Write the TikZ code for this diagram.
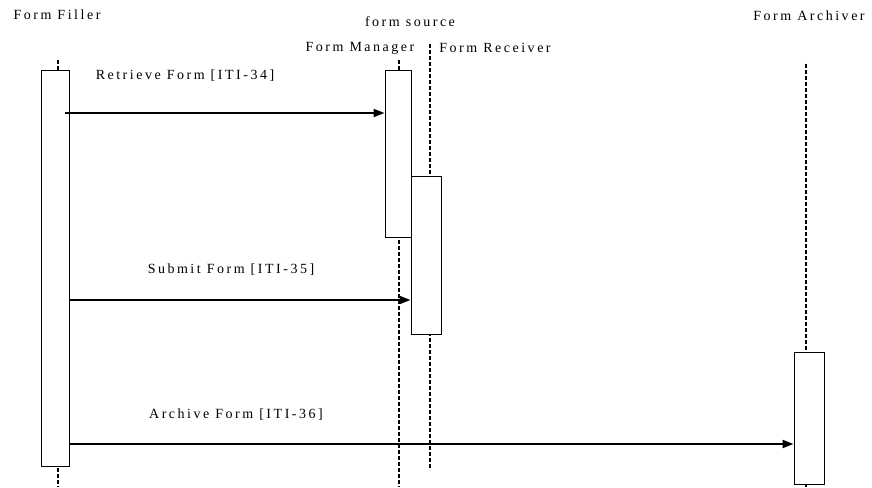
\documentclass[tikz,border=0pt]{standalone}
\usepackage{fontspec}
\setmainfont{Liberation Serif}[LetterSpace=18]
\usetikzlibrary{arrows.meta}
\begin{document}
\begin{tikzpicture}[x=1pt,y=-1pt,>={Triangle[length=11pt,width=8pt]},
  every node/.style={font=\fontsize{14}{16}\selectfont,inner sep=0pt},
  act/.style={draw,line width=.9pt,fill=white,inner sep=0pt},
  life/.style={line width=2pt,dash pattern=on 4pt off 2pt},
  msg/.style={->,line width=2pt}]
\useasboundingbox (0,0) rectangle (872,487);
% actor names
\node (filler) at (57,15) {Form Filler};
\node (source) at (410,22) {form source};
\node (mgr) at (360,48) {Form Manager};
\node (rcv) at (495,48) {Form Receiver};
\node (arc) at (809,16) {Form Archiver};
% lifelines
\draw[life] (58,60) -- (58,487);
\draw[life] (399,60) -- (399,487);
\draw[life] (430,44) -- (430,470);
\draw[life] (806,64) -- (806,487);
% activations
\node[act,minimum width=28,minimum height=396] (fillerAct) at (55,268) {};
\node[act,minimum width=26,minimum height=167] (mgrAct) at (398,153.5) {};
\node[act,minimum width=30,minimum height=158] (rcvAct) at (426,255) {};
\node[act,minimum width=30,minimum height=132] (arcAct) at (809,418) {};
% messages
\draw[msg] ([xshift=-4pt]fillerAct.east |- 0,113) -- (mgrAct.west |- 0,113);
\node (retrieve) at (185,76) {Retrieve Form [ITI-34]};
\draw[msg] (fillerAct.east |- 0,300) -- (rcvAct.west |- 0,300);
\node (submit) at (231,270) {Submit Form [ITI-35]};
\draw[msg] (fillerAct.east |- 0,444) -- (arcAct.west |- 0,444);
\node (archive) at (236,415) {Archive Form [ITI-36]};
\end{tikzpicture}
\end{document}
